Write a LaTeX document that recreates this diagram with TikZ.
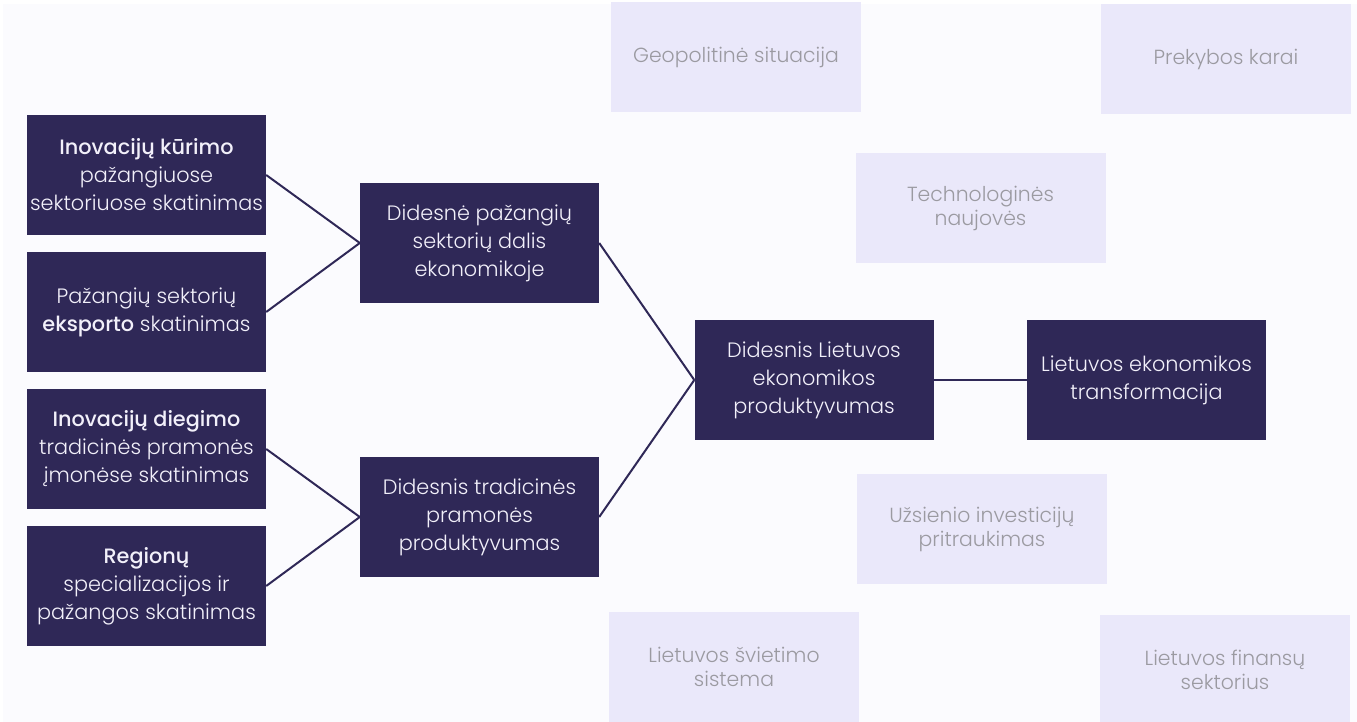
\documentclass[tikz,border=0pt]{standalone}
\usepackage{fontspec}
\setmainfont{Poppins}[UprightFont=* Light, BoldFont=* Medium]
\usepackage{xcolor}
\definecolor{inkdark}{RGB}{47,40,87}
\definecolor{paleviolet}{RGB}{234,232,250}
\definecolor{pagebg}{RGB}{251,251,254}
\definecolor{palegrey}{RGB}{155,154,161}
\definecolor{boxtext}{RGB}{242,240,250}

\begin{document}
\begin{tikzpicture}[x=1pt, y=-1pt,
    darkbox/.style={fill=inkdark, text=boxtext, minimum width=239pt, minimum height=120pt,
      align=center, inner sep=0pt, font=\fontsize{20.8}{28}\selectfont},
    lightbox/.style={fill=paleviolet, text=palegrey, minimum width=250pt, minimum height=110pt,
      align=center, inner sep=0pt, font=\fontsize{20.4}{24}\selectfont},
    link/.style={draw=inkdark, line width=2pt}]

  % Page
  \useasboundingbox (0,0) rectangle (1357,722);
  \fill[white] (0,0) rectangle (1357,722);
  \fill[pagebg] (3,4) rectangle (1357,722);

  % Outside factors
  \node[lightbox] (geo) at (736,57.5) {Geopolitinė situacija};
  \node[lightbox] (trade) at (1226,59) {Prekybos karai};
  \node[lightbox] (tech) at (980.5,208) {Technologinės\\naujovės};
  \node[lightbox] (invest) at (982,529) {Užsienio investicijų\\pritraukimas};
  \node[lightbox] (school) at (734,667) {Lietuvos švietimo\\sistema};
  \node[lightbox] (finance) at (1225,670) {Lietuvos finansų\\sektorius};

  % Measures
  \node[darkbox] (create) at (146.5,175) {\textbf{Inovacijų kūrimo}\\pažangiuose\\sektoriuose skatinimas};
  \node[darkbox] (export) at (146.5,312) {Pažangių sektorių\\\textbf{eksporto} skatinimas};
  \node[darkbox] (adopt) at (146.5,449) {\textbf{Inovacijų diegimo}\\tradicinės pramonės\\įmonėse skatinimas};
  \node[darkbox] (region) at (146.5,586) {\textbf{Regionų}\\specializacijos ir\\pažangos skatinimas};

  % Results
  \node[darkbox] (share) at (479.5,243) {Didesnė pažangių\\sektorių dalis\\ekonomikoje};
  \node[darkbox] (tradprod) at (479.5,517) {Didesnis tradicinės\\pramonės\\produktyvumas};
  \node[darkbox] (prod) at (814,380) {Didesnis Lietuvos\\ekonomikos\\produktyvumas};
  \node[darkbox] (transf) at (1146.5,380) {Lietuvos ekonomikos\\transformacija};

  % Links
  \foreach \from/\to in {create/share, export/share, adopt/tradprod, region/tradprod,
                         share/prod, tradprod/prod, prod/transf} {
    \draw[link] (\from.east) -- (\to.west);
  }

\end{tikzpicture}
\end{document}
